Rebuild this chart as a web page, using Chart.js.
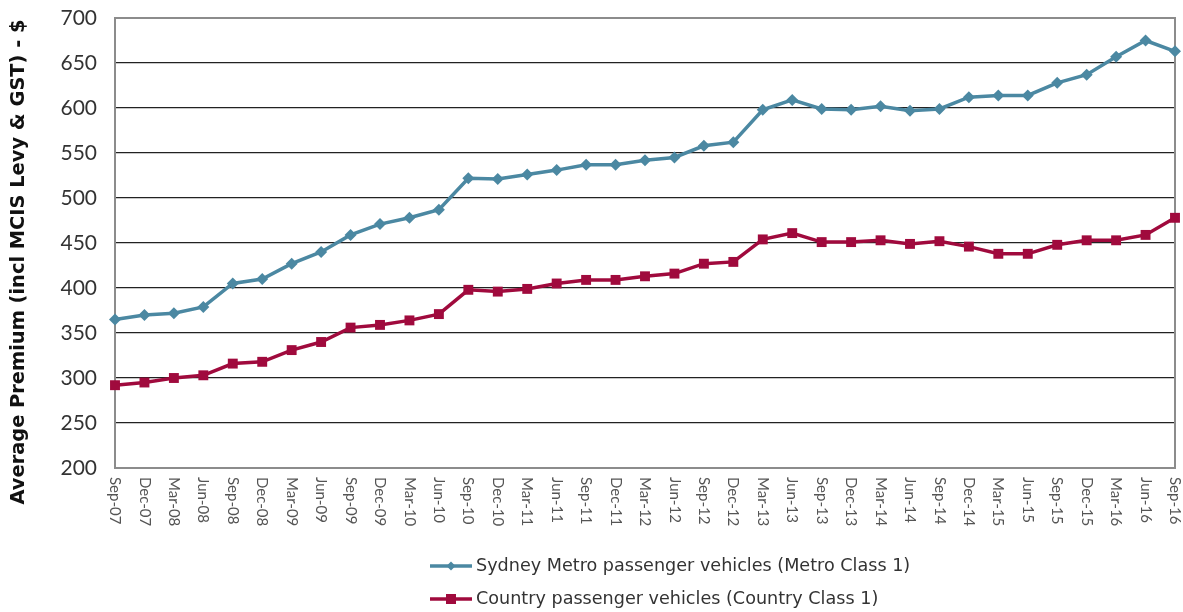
<!DOCTYPE html>
<html>
<head>
<meta charset="utf-8">
<script src="https://cdn.jsdelivr.net/npm/chart.js@4/dist/chart.umd.min.js"></script>
<style>
	html, body { margin: 0; padding: 0; background: #fff; }
	#wrap { width: 1183px; height: 612px; }
</style>
</head>
<body>
<div id="wrap"><canvas id="canvas" width="1183" height="612"></canvas></div>
<script>
// data
var quarters = ['Sep-07','Dec-07','Mar-08','Jun-08','Sep-08','Dec-08','Mar-09','Jun-09','Sep-09','Dec-09',
	'Mar-10','Jun-10','Sep-10','Dec-10','Mar-11','Jun-11','Sep-11','Dec-11','Mar-12','Jun-12',
	'Sep-12','Dec-12','Mar-13','Jun-13','Sep-13','Dec-13','Mar-14','Jun-14','Sep-14','Dec-14',
	'Mar-15','Jun-15','Sep-15','Dec-15','Mar-16','Jun-16','Sep-16'];
var metro = [365,370,372,379,405,410,427,440,459,471,
	478,487,522,521,526,531,537,537,542,545,
	558,562,598,609,599,598,602,597,599,612,
	614,614,628,637,657,675,663];
var country = [292,295,300,303,316,318,331,340,356,359,
	364,371,398,396,399,405,409,409,413,416,
	427,429,454,461,451,451,453,449,452,446,
	438,438,448,453,453,459,478];
var seriesNames = ['Sydney Metro passenger vehicles (Metro Class 1)', 'Country passenger vehicles (Country Class 1)'];
var yTitle = 'Average Premium (incl MCIS Levy & GST) - $';

var FONT = 'Lato, "DejaVu Sans", sans-serif';
var WIDE = '"DejaVu Sans", sans-serif';
var metroColor = '#4b88a2';
var countryColor = '#a00a3d';

// x labels read top to bottom, drawn by hand
var xLabels = {
	id : 'xLabels',
	afterDraw : function(chart){
		var ctx = chart.ctx;
		var xs = chart.scales.x;
		var top = chart.chartArea.bottom + 9;
		ctx.save();
		ctx.font = '15px ' + FONT;
		ctx.fillStyle = '#555';
		ctx.textAlign = 'left';
		ctx.textBaseline = 'middle';
		for(var i = 0; i < quarters.length; i++){
			ctx.save();
			ctx.translate(xs.getPixelForTick(i), top);
			ctx.rotate(Math.PI / 2);
			ctx.fillText(quarters[i], 0, 0);
			ctx.restore();
		}
		ctx.restore();
	}
};

// y title sits a bit low, as in the original
var yTitleDraw = {
	id : 'yTitleDraw',
	afterDraw : function(chart){
		var ctx = chart.ctx;
		ctx.save();
		ctx.translate(19, 262);
		ctx.rotate(-Math.PI / 2);
		ctx.font = 'bold 19.4px ' + WIDE;
		ctx.fillStyle = '#111';
		ctx.textAlign = 'center';
		ctx.textBaseline = 'middle';
		ctx.fillText(yTitle, 0, 0);
		ctx.restore();
	}
};

// grey frame round the plot
var frame = {
	id : 'frame',
	beforeDatasetsDraw : function(chart){
		var a = chart.chartArea;
		var ctx = chart.ctx;
		ctx.save();
		ctx.strokeStyle = '#8c8c8c';
		ctx.lineWidth = 2;
		ctx.strokeRect(a.left, a.top, a.right - a.left, a.bottom - a.top);
		ctx.restore();
	}
};

// legend stacked at the bottom, line with marker
var bottomLegend = {
	id : 'bottomLegend',
	afterDraw : function(chart){
		var ctx = chart.ctx;
		var rows = [566, 599];
		var x0 = 430, x1 = 472;
		ctx.save();
		chart.data.datasets.forEach(function(ds, i){
			var y = rows[i];
			ctx.strokeStyle = ds.borderColor;
			ctx.lineWidth = 3.5;
			ctx.beginPath();
			ctx.moveTo(x0, y);
			ctx.lineTo(x1, y);
			ctx.stroke();
			ctx.fillStyle = ds.borderColor;
			var cx = (x0 + x1) / 2;
			if(ds.pointStyle == 'rect'){
				ctx.fillRect(cx - 5, y - 5, 10, 10);
			}else{
				ctx.beginPath();
				ctx.moveTo(cx, y - 4.5);
				ctx.lineTo(cx + 4.5, y);
				ctx.lineTo(cx, y + 4.5);
				ctx.lineTo(cx - 4.5, y);
				ctx.closePath();
				ctx.fill();
			}
			ctx.fillStyle = '#333';
			ctx.font = '17.6px ' + WIDE;
			ctx.textAlign = 'left';
			ctx.textBaseline = 'middle';
			ctx.fillText(ds.label, x1 + 4, y);
		});
		ctx.restore();
	}
};

var ctx = document.getElementById('canvas').getContext('2d');
var myChart = new Chart(ctx, {
	type : 'line',
	data : {
		labels : quarters,
		datasets : [{
			label : seriesNames[0],
			data : metro,
			borderColor : metroColor,
			backgroundColor : metroColor,
			borderWidth : 3.5,
			pointStyle : 'rectRot',
			pointRadius : 6,
			pointBorderWidth : 0,
			tension : 0
		},{
			label : seriesNames[1],
			data : country,
			borderColor : countryColor,
			backgroundColor : countryColor,
			borderWidth : 3.5,
			pointStyle : 'rect',
			pointRadius : 7,
			pointBorderWidth : 0,
			tension : 0
		}]
	},
	plugins : [frame, xLabels, yTitleDraw, bottomLegend],
	options : {
		responsive : false,
		animation : false,
		layout : {
			padding : { top : 18, right : 8, bottom : 136, left : 4 }
		},
		plugins : {
			legend : { display : false },
			tooltip : { enabled : false }
		},
		scales : {
			x : {
				offset : false,
				grid : { display : false },
				border : { display : false },
				ticks : { display : false }
			},
			y : {
				min : 200,
				max : 700,
				afterFit : function(scale){
					scale.width = 111;
					scale.paddingTop = 0;
					scale.paddingBottom = 0;
				},
				grid : { color : '#222', lineWidth : 1.2, drawTicks : false },
				border : { display : false },
				ticks : {
					stepSize : 50,
					padding : 18,
					color : '#333',
					font : { family : FONT, size : 21 }
				}
			}
		}
	}
});
</script>
</body>
</html>
